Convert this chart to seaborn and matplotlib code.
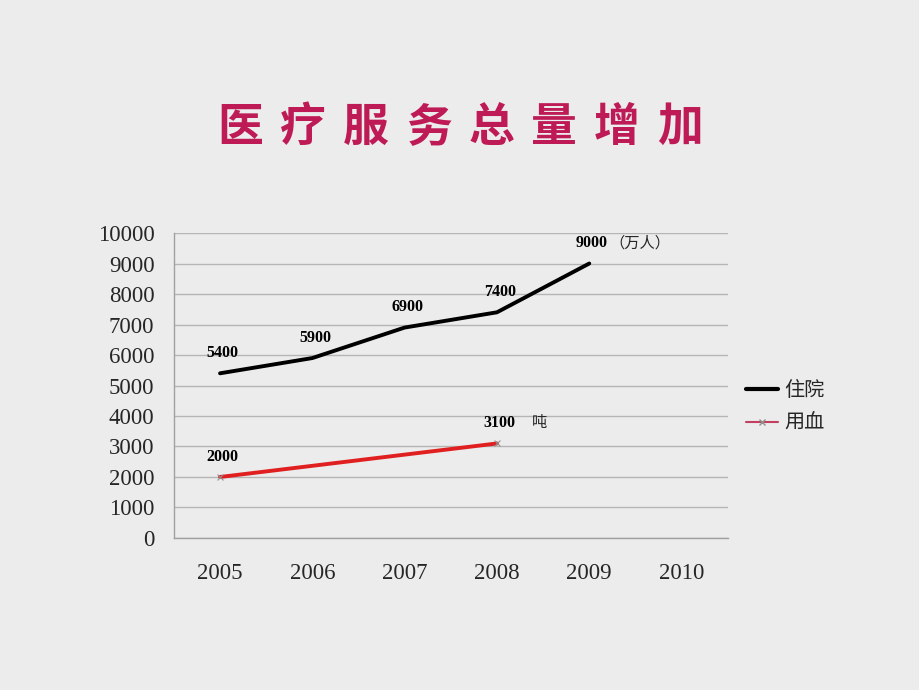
import numpy as np
import pandas as pd
import matplotlib
matplotlib.use('Agg')
import matplotlib.pyplot as plt
from matplotlib.lines import Line2D
import seaborn as sns

years = ['2005', '2006', '2007', '2008', '2009', '2010']
inpatient_years = ['2005', '2006', '2007', '2008', '2009']
inpatient = [5400, 5900, 6900, 7400, 9000]
blood_years = ['2005', '2008']
blood = [2000, 3100]
title = '医疗服务总量增加'

sns.set_theme(style='white')
plt.rcParams['font.family'] = ['Liberation Serif', 'Noto Sans CJK SC', 'DejaVu Sans']

bg = '#ECECEC'
fig = plt.figure(figsize=(9.2, 6.9), dpi=100, facecolor=bg)
ax = fig.add_axes([0.189, 0.2203, 0.602, 0.442])
ax.set_facecolor(bg)

df_in = pd.DataFrame({'pos': [years.index(y) for y in inpatient_years], 'val': inpatient})
df_bl = pd.DataFrame({'pos': [years.index(y) for y in blood_years], 'val': blood})

sns.lineplot(data=df_in, x='pos', y='val', ax=ax, color='black', linewidth=2.8, zorder=3)
sns.lineplot(data=df_bl, x='pos', y='val', ax=ax, color='#E02020', linewidth=2.8, zorder=3)
ax.scatter(df_bl['pos'], df_bl['val'], marker='x', s=18, color='#909090', linewidths=0.8, zorder=4)

# data labels
lab_font = dict(family='Liberation Serif', weight='bold', fontsize=11.5, color='black', ha='center', va='bottom')
for p, v in zip(df_in['pos'], df_in['val']):
    ax.text(p + 0.03, v + 400, str(v), **lab_font)
for p, v in zip(df_bl['pos'], df_bl['val']):
    ax.text(p + 0.03, v + 400, str(v), **lab_font)
ax.text(df_in['pos'].iloc[-1] + 0.22, inpatient[-1] + 400, '（万人）', fontsize=11,
        family=['Noto Sans CJK SC'], va='bottom', ha='left')
ax.text(df_bl['pos'].iloc[-1] + 0.38, blood[-1] + 400, '吨', fontsize=11,
        family=['Noto Sans CJK SC'], va='bottom', ha='left')

ax.set_xlim(-0.5, len(years) - 0.5)
ax.set_ylim(0, 10000)
ax.set_yticks(np.arange(0, 10001, 1000))
ax.set_yticklabels([str(t) for t in range(0, 10001, 1000)], fontsize=16.5)
ax.set_xticks(range(len(years)))
ax.set_xticklabels(years, fontsize=16.5)
ax.set_xticks(np.arange(-0.5, len(years), 1), minor=True)
ax.tick_params(axis='x', which='major', length=0, pad=18)
ax.tick_params(axis='x', which='minor', length=5, color='#A0A0A0', direction='out')
ax.tick_params(axis='y', length=5, color='#A0A0A0', direction='out', pad=9)
ax.grid(axis='y', color='#B5B5B5', linewidth=1)
ax.set_axisbelow(True)
ax.set_xlabel('')
ax.set_ylabel('')
for s in ['top', 'right']:
    ax.spines[s].set_visible(False)
for s in ['left', 'bottom']:
    ax.spines[s].set_color('#A0A0A0')
    ax.spines[s].set_linewidth(1)

handles = [Line2D([0], [0], color='black', linewidth=3),
           Line2D([0], [0], color='#C04060', linewidth=1.5, marker='x', markersize=4, markeredgecolor='#909090')]
leg = ax.legend(handles, ['住院', '用血'], loc='center left', bbox_to_anchor=(1.0, 0.43),
                frameon=False, handlelength=1.6, handletextpad=0.3, labelspacing=0.6,
                prop={'family': ['Noto Sans CJK SC'], 'size': 14.5})

# title with wide letter spacing
xs = np.linspace(240 / 920, 680 / 920, len(title))
for ch, x in zip(title, xs):
    fig.text(x, 1 - 128 / 690, ch, fontsize=33, fontweight='heavy', color='#BE1A55',
             family=['Noto Sans CJK SC'], ha='center', va='center')

fig.savefig('out.png', dpi=100, facecolor=bg)
